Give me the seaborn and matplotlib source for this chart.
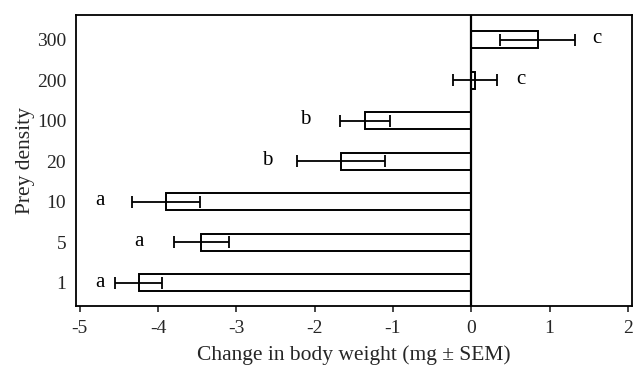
import matplotlib
matplotlib.use("Agg")
import matplotlib.pyplot as plt
import seaborn as sns
import pandas as pd
import numpy as np

densities = ["300", "200", "100", "20", "10", "5", "1"]
change = [0.85, 0.05, -1.36, -1.66, -3.90, -3.45, -4.25]
sem = [0.48, 0.28, 0.32, 0.56, 0.44, 0.35, 0.30]
letters = ["c", "c", "b", "b", "a", "a", "a"]
letter_x = [1.61, 0.64, -2.12, -2.61, -4.74, -4.25, -4.74]

sns.set_style("white")
plt.rcParams["font.family"] = ["Liberation Serif", "DejaVu Serif"]

df = pd.DataFrame({"density": densities, "change": change})

fig = plt.figure(figsize=(6.33, 3.70), dpi=100)
ax = fig.add_axes([0.120, 0.173, 0.878, 0.786])

sns.barplot(data=df, x="change", y="density", order=densities, orient="h",
            color="white", edgecolor="black", linewidth=1.4, width=0.42,
            errorbar=None, ax=ax)

ypos = np.arange(len(densities))
ax.errorbar(change, ypos, xerr=sem, fmt="none", ecolor="black",
            elinewidth=1.3, capsize=4, capthick=1.3, zorder=5)

for yi, (lx, lt) in enumerate(zip(letter_x, letters)):
    ax.text(lx, yi - 0.02, lt, ha="center", va="center", fontsize=15, color="black")

ax.axvline(0, color="black", linewidth=1.6, zorder=6)

ax.set_xlim(-5.05, 2.05)
ax.set_ylim(6.57, -0.6)
ax.set_xticks([-5, -4, -3, -2, -1, 0, 1, 2])
ax.set_xticklabels(["-5", "-4", "-3", "-2", "-1", "0", "1", "2"])
ax.tick_params(axis="x", direction="out", length=4, width=1.2, labelsize=14, pad=6, bottom=True)
ax.tick_params(axis="y", length=0, labelsize=14, pad=7)
for s in ax.spines.values():
    s.set_color("black")
    s.set_linewidth(1.3)

ax.set_xlabel("Change in body weight (mg ± SEM)", fontsize=15.5, labelpad=6)
ax.set_ylabel("Prey density", fontsize=15.5, labelpad=1)

fig.savefig("out.png", dpi=100)
